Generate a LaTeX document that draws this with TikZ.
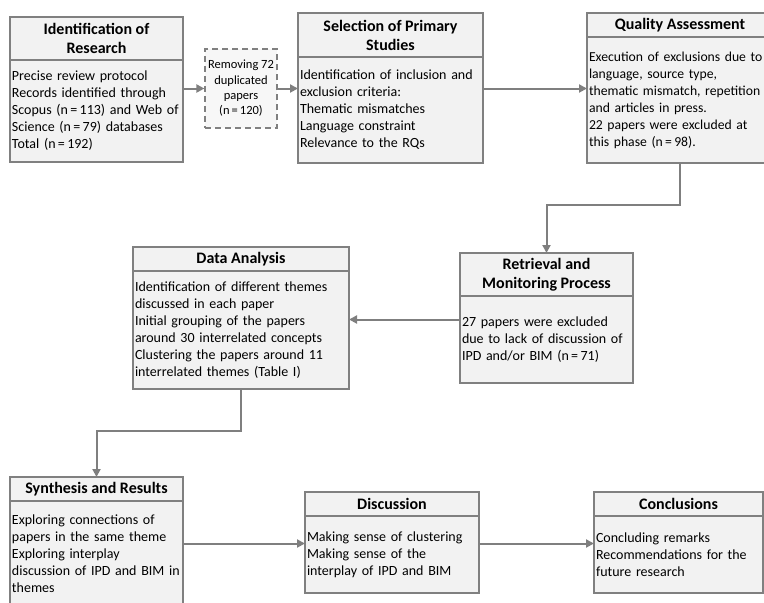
\documentclass[tikz,border=0pt]{standalone}
\usepackage{fontspec}
\setmainfont{Carlito}
\usetikzlibrary{positioning,arrows.meta}

\definecolor{boxfill}{HTML}{F2F2F2}
\definecolor{boxline}{HTML}{808080}
\definecolor{flowgray}{HTML}{7F7F7F}

\tikzset{
  head/.style={draw=boxline, fill=boxfill, line width=1.2pt, outer sep=0pt,
    anchor=north west, align=center, inner sep=0pt,
    font=\fontsize{16}{19}\selectfont\bfseries},
  body/.style={draw=boxline, fill=boxfill, line width=1.2pt, outer sep=0pt,
    align=left, inner xsep=2pt, inner ysep=0pt, below=0pt of #1,
    font=\fontsize{14}{17}\selectfont},
  dupbox/.style={draw=boxline, fill=boxfill!60, line width=1.2pt, dash pattern=on 6pt off 4pt,
    align=center, inner sep=0pt, minimum width=72pt, minimum height=79pt,
    font=\fontsize{12.5}{15.3}\selectfont},
  flow/.style={draw=flowgray, line width=2pt, -{Triangle[length=8pt,width=8pt]}},
}

\begin{document}
\begin{tikzpicture}[x=1pt,y=-1pt]
	\useasboundingbox (0,0) rectangle (764,603);
	% top row
	\node[head, minimum width=173pt, minimum height=43pt] (idresh) at (10,17) {Identification of\\Research};
	\node[body=idresh, text width=169pt, minimum height=102pt] (idresb) {Precise review protocol\\Records identified through\\Scopus (n\,=\,113) and Web of\\Science (n\,=\,79) databases\\Total (n\,=\,192)};
	\node[dupbox] (dup) at (241,88.5) {Removing 72\\duplicated\\papers\\(n\,=\,120)};
	\node[head, minimum width=185pt, minimum height=44pt] (selh) at (298,13) {Selection of Primary\\Studies};
	\node[body=selh, text width=181pt, minimum height=106pt] (selb) {Identification of inclusion and\\exclusion criteria:\\Thematic mismatches\\Language constraint\\Relevance to the RQs};
	\node[head, minimum width=186pt, minimum height=24pt] (qualh) at (587,13) {Quality Assessment};
	\node[body=qualh, text width=182pt, minimum height=126pt, font=\fontsize{13.7}{17}\selectfont] (qualb) {Execution of exclusions due to\\language, source type,\\thematic mismatch, repetition\\and articles in press.\\22 papers were excluded at\\this phase (n\,=\,98).};
	% middle row
	\node[head, minimum width=173pt, minimum height=43pt] (retrh) at (460,253) {Retrieval and\\Monitoring Process};
	\node[body=retrh, text width=169pt, minimum height=87pt] (retrb) {27 papers were excluded\\due to lack of discussion of\\IPD and/or BIM (n\,=\,71)};
	\node[head, minimum width=216pt, minimum height=24pt] (datah) at (133,247) {Data Analysis};
	\node[body=datah, text width=212pt, minimum height=118pt] (datab) {Identification of different themes\\discussed in each paper\\Initial grouping of the papers\\around 30 interrelated concepts\\Clustering the papers around 11\\interrelated themes (Table I)};
	% bottom row
	\node[head, minimum width=173pt, minimum height=24pt] (synh) at (10,477) {Synthesis and Results};
	\node[body=synh, text width=169pt, minimum height=106pt] (synb) {Exploring connections of\\papers in the same theme\\Exploring interplay\\discussion of IPD and BIM in\\themes};
	\node[head, minimum width=174pt, minimum height=24pt] (disch) at (305,492) {Discussion};
	\node[body=disch, text width=170pt, minimum height=77pt] (discb) {Making sense of clustering\\Making sense of the\\interplay of IPD and BIM};
	\node[head, minimum width=169pt, minimum height=24pt] (conclh) at (594,492) {Conclusions};
	\node[body=conclh, text width=165pt, minimum height=77pt] (conclb) {Concluding remarks\\Recommendations for the\\future research};
	% connectors
	\draw[flow] (dup.west -| idresb.east) -- (dup.west);
	\draw[flow] (dup.east) -- (dup.east -| selb.west);
	\draw[flow] (dup.east -| selb.east) -- (dup.east -| qualb.west);
	\draw[flow] (qualb.south) -- ++(0,42) -| (retrh.north);
	\draw[flow] ([yshift=20pt]retrb.west) -- ([yshift=20pt]retrb.west -| datab.east);
	\draw[flow] (datab.south) -- ++(0,42) -| (synh.north);
	\draw[flow] ([yshift=11pt]discb.west -| synb.east) -- ([yshift=11pt]discb.west);
	\draw[flow] ([yshift=11pt]discb.east) -- ([yshift=11pt]conclb.west);
\end{tikzpicture}
\end{document}
